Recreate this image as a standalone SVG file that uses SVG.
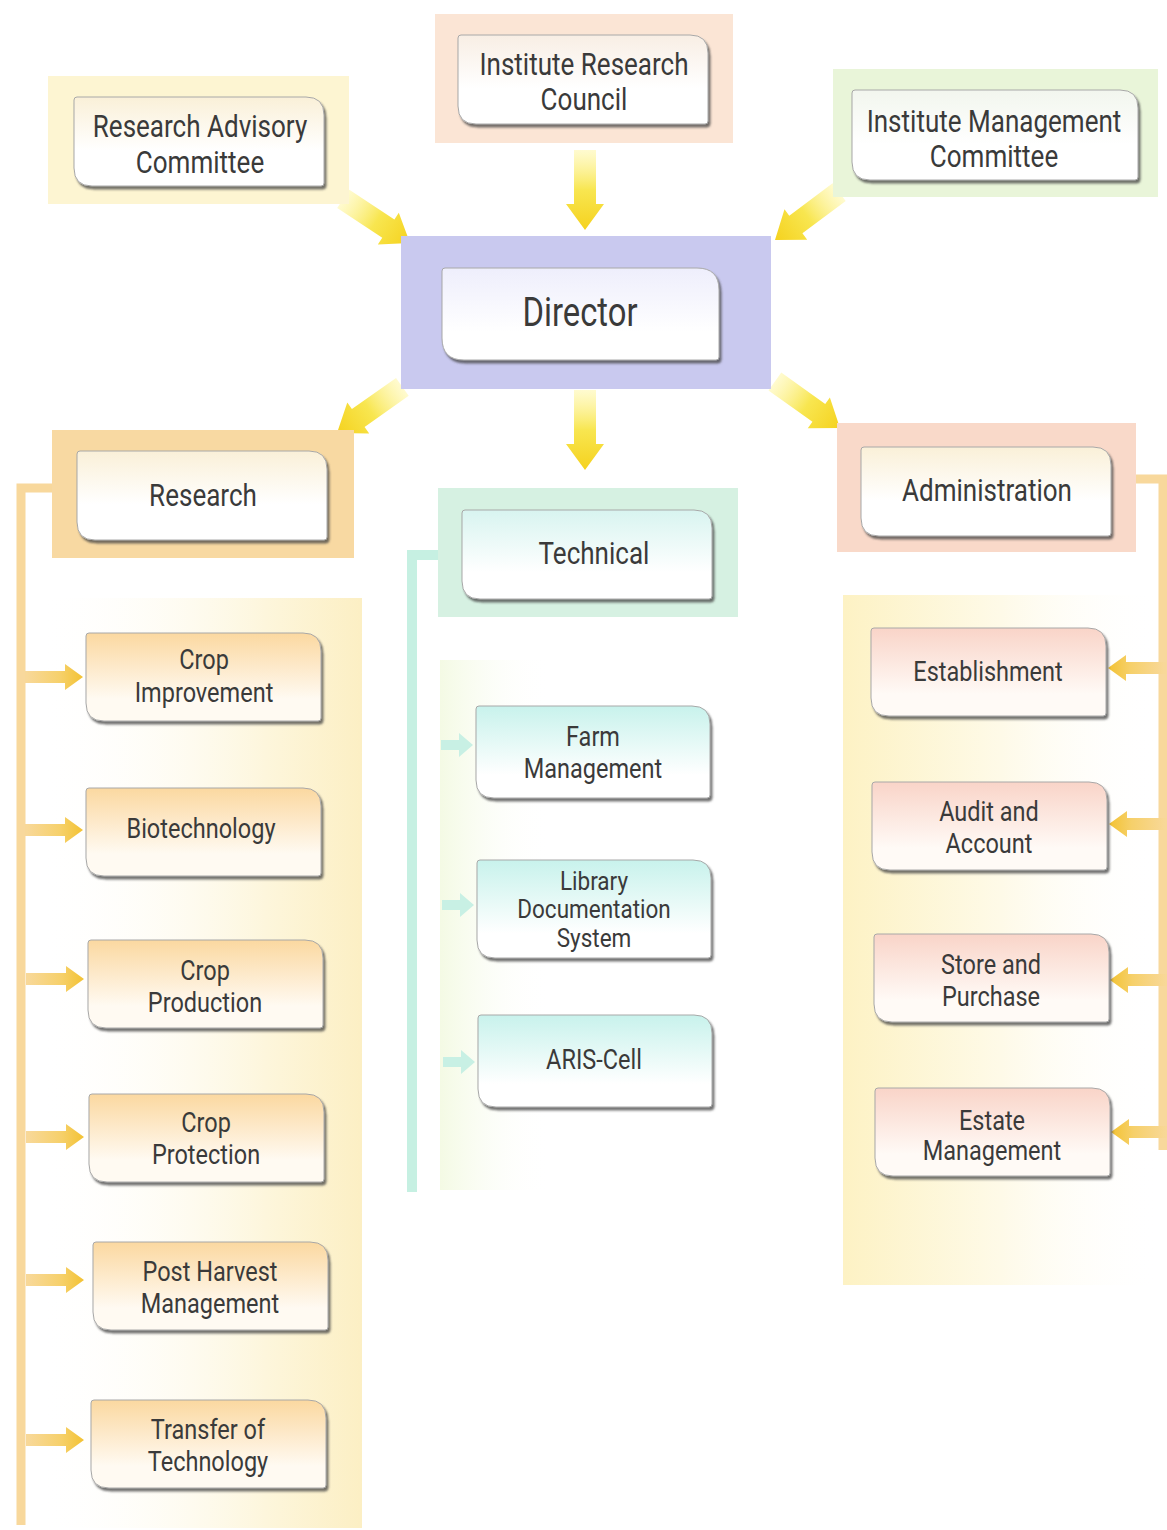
<svg xmlns="http://www.w3.org/2000/svg" xmlns:xlink="http://www.w3.org/1999/xlink" width="1167" height="1530" viewBox="0 0 1167 1530">
<style>
text{font-family:Roboto,"Liberation Sans",sans-serif;fill:#3a3a3a;text-anchor:middle}
.t1{font-size:31px}
.t2{font-size:28px}
.t3{font-size:25px}
.td{font-size:40px}
.box{stroke:#a8a8a8;stroke-width:1;filter:url(#sh)}
</style>
<defs>
<filter id="sh" x="-10%" y="-10%" width="125%" height="130%">
<feDropShadow dx="2" dy="3" stdDeviation="1.2" flood-color="#444" flood-opacity="0.75"/>
</filter>
<path id="p250" d="M3,0 H232 Q250,0 250,18 V86 Q250,89 247,89 H18 Q0,89 0,71 V3 Q0,0 3,0 Z"/>
<path id="p286" d="M3,0 H268 Q286,0 286,18 V87 Q286,90 283,90 H18 Q0,90 0,72 V3 Q0,0 3,0 Z"/>
<path id="pDir" d="M3,0 H255 Q277,0 277,22 V89 Q277,92 274,92 H22 Q0,92 0,70 V3 Q0,0 3,0 Z"/>
<path id="pC" d="M3,0 H217 Q235,0 235,18 V85 Q235,88 232,88 H18 Q0,88 0,70 V3 Q0,0 3,0 Z"/>
<path id="pM" d="M3,0 H216 Q234,0 234,18 V89 Q234,92 231,92 H18 Q0,92 0,74 V3 Q0,0 3,0 Z"/>
<path id="pLib" d="M3,0 H216 Q234,0 234,18 V95 Q234,98 231,98 H18 Q0,98 0,80 V3 Q0,0 3,0 Z"/>
<linearGradient id="gBig" gradientUnits="userSpaceOnUse" x1="-80" y1="0" x2="0" y2="0">
<stop offset="0" stop-color="#fff8b0" stop-opacity="0.6"/>
<stop offset="0.5" stop-color="#f8e650"/>
<stop offset="1" stop-color="#f5d21e"/>
</linearGradient>
<path id="bigArrow" d="M0,0 L-26,-19 L-26,-11 L-80,-11 L-80,11 L-26,11 L-26,19 Z"/>
<linearGradient id="gSmall" gradientUnits="userSpaceOnUse" x1="-56" y1="0" x2="0" y2="0">
<stop offset="0" stop-color="#f8d898"/>
<stop offset="0.6" stop-color="#f6d06a"/>
<stop offset="1" stop-color="#f3c232"/>
</linearGradient>
<path id="smallArrow" d="M-58,-6 H-18 V-13 L0,0 L-18,13 V6 H-58 Z"/>
<path id="cyanArrow" d="M-32,-5 H-14 V-12 L0,0 L-14,12 V5 H-32 Z"/>
<linearGradient id="fWarm" x1="0" y1="0" x2="0" y2="1">
<stop offset="0" stop-color="#faf0d8"/><stop offset="0.6" stop-color="#ffffff"/>
</linearGradient>
<linearGradient id="fPeach" x1="0" y1="0" x2="0" y2="1">
<stop offset="0" stop-color="#f8eee4"/><stop offset="0.6" stop-color="#ffffff"/>
</linearGradient>
<linearGradient id="fGreen" x1="0" y1="0" x2="0" y2="1">
<stop offset="0" stop-color="#f2f6ee"/><stop offset="0.6" stop-color="#ffffff"/>
</linearGradient>
<linearGradient id="fDir" x1="0" y1="0" x2="0" y2="1">
<stop offset="0" stop-color="#eeeefc"/><stop offset="0.7" stop-color="#ffffff"/>
</linearGradient>
<linearGradient id="fCyan" x1="0" y1="0" x2="0" y2="1">
<stop offset="0" stop-color="#d8f4f0"/><stop offset="0.7" stop-color="#ffffff"/>
</linearGradient>
<linearGradient id="fOrange" x1="0" y1="0" x2="0" y2="1">
<stop offset="0" stop-color="#fbd8a0"/><stop offset="0.75" stop-color="#fffaf2"/>
</linearGradient>
<linearGradient id="fMint" x1="0" y1="0" x2="0" y2="1">
<stop offset="0" stop-color="#c8f2ec"/><stop offset="0.75" stop-color="#ffffff"/>
</linearGradient>
<linearGradient id="fPink" x1="0" y1="0" x2="0" y2="1">
<stop offset="0" stop-color="#f9d4c8"/><stop offset="0.75" stop-color="#fffaf6"/>
</linearGradient>
<linearGradient id="bandL" x1="0" y1="0" x2="1" y2="0">
<stop offset="0" stop-color="#ffffff" stop-opacity="0"/><stop offset="0.7" stop-color="#fdf6dc"/><stop offset="1" stop-color="#fcefc4"/>
</linearGradient>
<linearGradient id="bandR" x1="0" y1="0" x2="1" y2="0">
<stop offset="0" stop-color="#fdf2c4"/><stop offset="0.5" stop-color="#fefae8"/><stop offset="1" stop-color="#ffffff" stop-opacity="0"/>
</linearGradient>
<linearGradient id="bandM" x1="0" y1="0" x2="1" y2="0">
<stop offset="0" stop-color="#f4fae4"/><stop offset="1" stop-color="#ffffff" stop-opacity="0"/>
</linearGradient>
</defs>

<rect width="1167" height="1530" fill="#ffffff"/>

<!-- background bands -->
<g id="bands">
<rect x="40" y="598" width="322" height="930" fill="url(#bandL)"/>
<rect x="843" y="595" width="317" height="690" fill="url(#bandR)"/>
<rect x="440" y="660" width="110" height="530" fill="url(#bandM)"/>
</g>

<!-- connectors -->
<g id="connectors">
<use xlink:href="#bigArrow" fill="url(#gBig)" transform="translate(410,243) rotate(33.5)"/>
<use xlink:href="#bigArrow" fill="url(#gBig)" transform="translate(585,230) rotate(90)"/>
<use xlink:href="#bigArrow" fill="url(#gBig)" transform="translate(775,240) rotate(143.3)"/>
<use xlink:href="#bigArrow" fill="url(#gBig)" transform="translate(337,433) rotate(144.8)"/>
<use xlink:href="#bigArrow" fill="url(#gBig)" transform="translate(585,470) rotate(90)"/>
<use xlink:href="#bigArrow" fill="url(#gBig)" transform="translate(840,428) rotate(35.5)"/>

<path d="M78,488 H21 V1525" fill="none" stroke="#f8d89c" stroke-width="9"/>
<use xlink:href="#smallArrow" fill="url(#gSmall)" transform="translate(83,677)"/>
<use xlink:href="#smallArrow" fill="url(#gSmall)" transform="translate(83,830)"/>
<use xlink:href="#smallArrow" fill="url(#gSmall)" transform="translate(84,979)"/>
<use xlink:href="#smallArrow" fill="url(#gSmall)" transform="translate(84,1137)"/>
<use xlink:href="#smallArrow" fill="url(#gSmall)" transform="translate(84,1280)"/>
<use xlink:href="#smallArrow" fill="url(#gSmall)" transform="translate(84,1440)"/>

<path d="M463,555 H412 V1192" fill="none" stroke="#c6f0e2" stroke-width="10"/>
<use xlink:href="#cyanArrow" fill="#c8f0e4" transform="translate(473,745)"/>
<use xlink:href="#cyanArrow" fill="#c8f0e4" transform="translate(474,905)"/>
<use xlink:href="#cyanArrow" fill="#c8f0e4" transform="translate(475,1062)"/>

<path d="M1110,479 H1163 V1150" fill="none" stroke="#f8d89c" stroke-width="9"/>
<use xlink:href="#smallArrow" fill="url(#gSmall)" transform="translate(1108,668) rotate(180)"/>
<use xlink:href="#smallArrow" fill="url(#gSmall)" transform="translate(1109,824) rotate(180)"/>
<use xlink:href="#smallArrow" fill="url(#gSmall)" transform="translate(1110,980) rotate(180)"/>
<use xlink:href="#smallArrow" fill="url(#gSmall)" transform="translate(1111,1132) rotate(180)"/>
</g>

<!-- top level -->
<g id="n-rac">
<rect x="48" y="76" width="301" height="128" fill="#fdf5d2"/>
<use xlink:href="#p250" x="74" y="97" class="box" fill="url(#fWarm)"/>
<text class="t1" transform="translate(200,137) scale(0.84,1)"><tspan x="0">Research Advisory</tspan><tspan x="0" dy="36">Committee</tspan></text>
</g>
<g id="n-irc">
<rect x="435" y="14" width="298" height="129" fill="#fbe5d5"/>
<use xlink:href="#p250" x="458" y="35" class="box" fill="url(#fPeach)"/>
<text class="t1" transform="translate(584,75) scale(0.84,1)"><tspan x="0">Institute Research</tspan><tspan x="0" dy="35">Council</tspan></text>
</g>
<g id="n-imc">
<rect x="833" y="69" width="325" height="128" fill="#e9f5d9"/>
<use xlink:href="#p286" x="852" y="90" class="box" fill="url(#fGreen)"/>
<text class="t1" transform="translate(994,132) scale(0.84,1)"><tspan x="0">Institute Management</tspan><tspan x="0" dy="35">Committee</tspan></text>
</g>
<g id="n-director">
<rect x="401" y="236" width="370" height="153" fill="#c9c9ef"/>
<use xlink:href="#pDir" x="442" y="268" class="box" fill="url(#fDir)"/>
<text class="td" transform="translate(580,326) scale(0.82,1)">Director</text>
</g>

<!-- second level -->
<g id="n-research">
<rect x="52" y="430" width="302" height="128" fill="#f8d9a2"/>
<use xlink:href="#p250" x="77" y="451" class="box" fill="url(#fWarm)"/>
<text class="t1" transform="translate(203,506) scale(0.84,1)">Research</text>
</g>
<g id="n-technical">
<rect x="438" y="488" width="300" height="129" fill="#d6f1e2"/>
<use xlink:href="#p250" x="462" y="510" class="box" fill="url(#fCyan)"/>
<text class="t1" transform="translate(594,564) scale(0.84,1)">Technical</text>
</g>
<g id="n-admin">
<rect x="837" y="423" width="299" height="129" fill="#f9d9c9"/>
<use xlink:href="#p250" x="861" y="447" class="box" fill="url(#fWarm)"/>
<text class="t1" transform="translate(987,501) scale(0.84,1)">Administration</text>
</g>

<!-- research children -->
<g id="n-crop-improvement">
<use xlink:href="#pC" x="86" y="633" class="box" fill="url(#fOrange)"/>
<text class="t2" transform="translate(204,669) scale(0.84,1)"><tspan x="0">Crop</tspan><tspan x="0" dy="33">Improvement</tspan></text>
</g>
<g id="n-biotechnology">
<use xlink:href="#pC" x="86" y="788" class="box" fill="url(#fOrange)"/>
<text class="t2" transform="translate(201,838) scale(0.84,1)">Biotechnology</text>
</g>
<g id="n-crop-production">
<use xlink:href="#pC" x="88" y="940" class="box" fill="url(#fOrange)"/>
<text class="t2" transform="translate(205,980) scale(0.84,1)"><tspan x="0">Crop</tspan><tspan x="0" dy="32">Production</tspan></text>
</g>
<g id="n-crop-protection">
<use xlink:href="#pC" x="89" y="1094" class="box" fill="url(#fOrange)"/>
<text class="t2" transform="translate(206,1132) scale(0.84,1)"><tspan x="0">Crop</tspan><tspan x="0" dy="32">Protection</tspan></text>
</g>
<g id="n-post-harvest">
<use xlink:href="#pC" x="93" y="1242" class="box" fill="url(#fOrange)"/>
<text class="t2" transform="translate(210,1281) scale(0.84,1)"><tspan x="0">Post Harvest</tspan><tspan x="0" dy="32">Management</tspan></text>
</g>
<g id="n-transfer">
<use xlink:href="#pC" x="91" y="1400" class="box" fill="url(#fOrange)"/>
<text class="t2" transform="translate(208,1439) scale(0.84,1)"><tspan x="0">Transfer of</tspan><tspan x="0" dy="32">Technology</tspan></text>
</g>

<!-- technical children -->
<g id="n-farm">
<use xlink:href="#pM" x="476" y="706" class="box" fill="url(#fMint)"/>
<text class="t2" transform="translate(593,746) scale(0.84,1)"><tspan x="0">Farm</tspan><tspan x="0" dy="32">Management</tspan></text>
</g>
<g id="n-library">
<use xlink:href="#pLib" x="477" y="860" class="box" fill="url(#fMint)"/>
<text class="t3" transform="translate(594,890) scale(0.9,1)"><tspan x="0">Library</tspan><tspan x="0" dy="28.5">Documentation</tspan><tspan x="0" dy="28.5">System</tspan></text>
</g>
<g id="n-aris">
<use xlink:href="#pM" x="478" y="1015" class="box" fill="url(#fMint)"/>
<text class="t2" transform="translate(594,1069) scale(0.84,1)">ARIS-Cell</text>
</g>

<!-- administration children -->
<g id="n-establishment">
<use xlink:href="#pC" x="871" y="628" class="box" fill="url(#fPink)"/>
<text class="t2" transform="translate(988,681) scale(0.84,1)">Establishment</text>
</g>
<g id="n-audit">
<use xlink:href="#pC" x="872" y="782" class="box" fill="url(#fPink)"/>
<text class="t2" transform="translate(989,821) scale(0.84,1)"><tspan x="0">Audit and</tspan><tspan x="0" dy="32">Account</tspan></text>
</g>
<g id="n-store">
<use xlink:href="#pC" x="874" y="934" class="box" fill="url(#fPink)"/>
<text class="t2" transform="translate(991,974) scale(0.84,1)"><tspan x="0">Store and</tspan><tspan x="0" dy="32">Purchase</tspan></text>
</g>
<g id="n-estate">
<use xlink:href="#pC" x="875" y="1088" class="box" fill="url(#fPink)"/>
<text class="t2" transform="translate(992,1130) scale(0.84,1)"><tspan x="0">Estate</tspan><tspan x="0" dy="30">Management</tspan></text>
</g>
</svg>
